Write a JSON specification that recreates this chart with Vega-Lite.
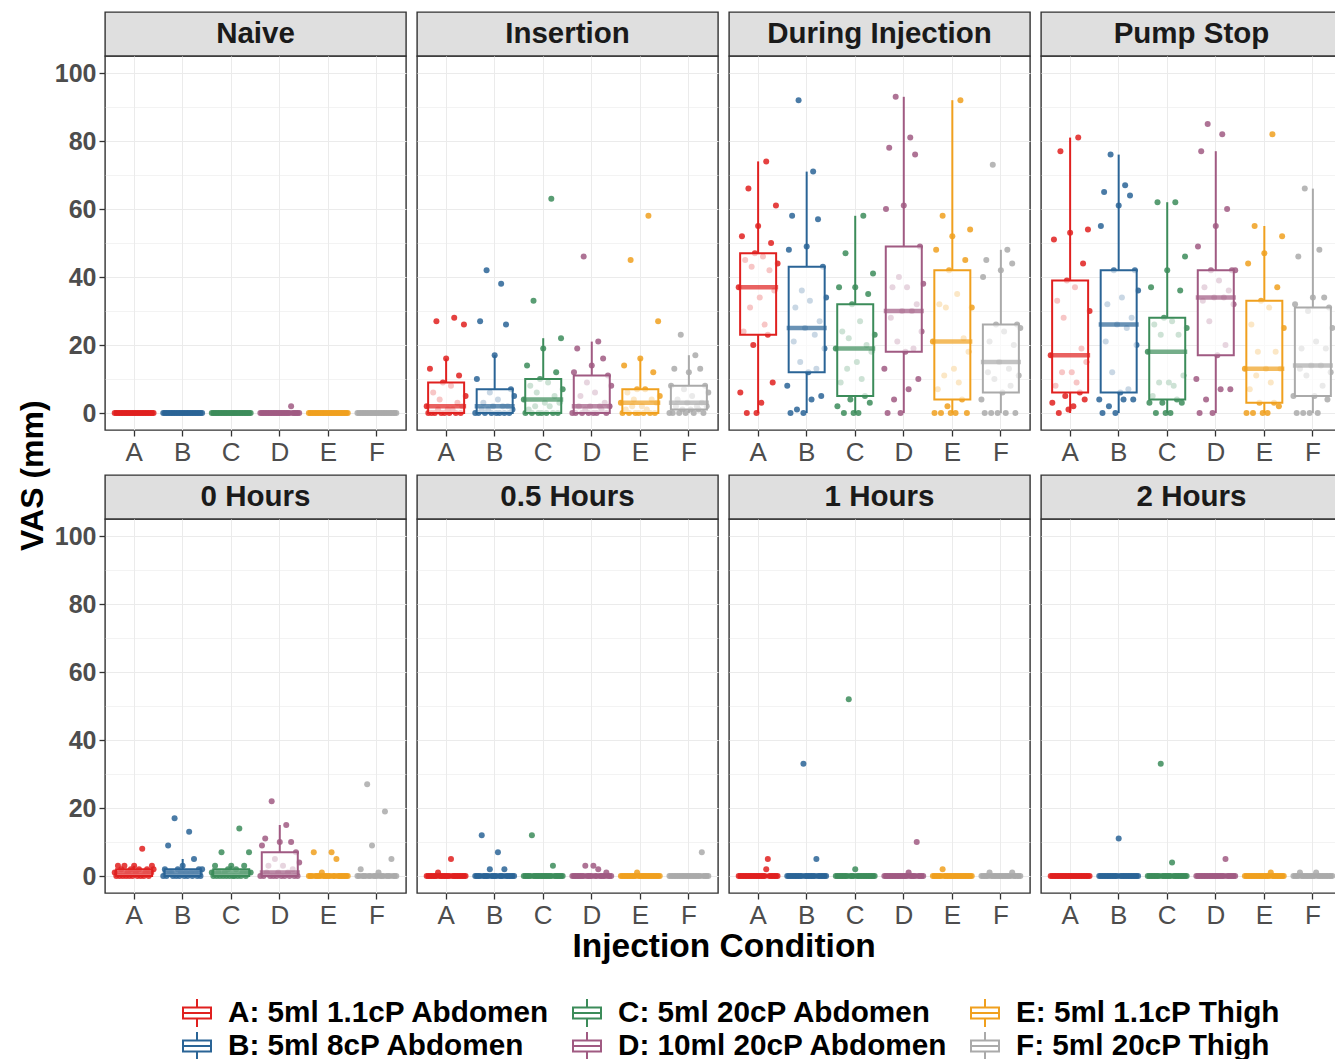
{
"$schema":"https://vega.github.io/schema/vega-lite/v6.json",
"background":"white",
"padding":{"left":16,"top":11,"right":0,"bottom":0},
"datasets":{
"N":[
{"c":"A","v":0},{"c":"A","v":0},{"c":"A","v":0},{"c":"A","v":0},{"c":"A","v":0},{"c":"A","v":0},{"c":"A","v":0},{"c":"A","v":0},{"c":"A","v":0},{"c":"A","v":0},{"c":"A","v":0},{"c":"A","v":0},{"c":"A","v":0},{"c":"A","v":0},{"c":"A","v":0},{"c":"A","v":0},{"c":"A","v":0},{"c":"A","v":0},{"c":"A","v":0},{"c":"A","v":0},{"c":"A","v":0},{"c":"A","v":0},{"c":"A","v":0},{"c":"A","v":0},{"c":"A","v":0},
{"c":"B","v":0},{"c":"B","v":0},{"c":"B","v":0},{"c":"B","v":0},{"c":"B","v":0},{"c":"B","v":0},{"c":"B","v":0},{"c":"B","v":0},{"c":"B","v":0},{"c":"B","v":0},{"c":"B","v":0},{"c":"B","v":0},{"c":"B","v":0},{"c":"B","v":0},{"c":"B","v":0},{"c":"B","v":0},{"c":"B","v":0},{"c":"B","v":0},{"c":"B","v":0},{"c":"B","v":0},{"c":"B","v":0},{"c":"B","v":0},{"c":"B","v":0},{"c":"B","v":0},{"c":"B","v":0},
{"c":"C","v":0},{"c":"C","v":0},{"c":"C","v":0},{"c":"C","v":0},{"c":"C","v":0},{"c":"C","v":0},{"c":"C","v":0},{"c":"C","v":0},{"c":"C","v":0},{"c":"C","v":0},{"c":"C","v":0},{"c":"C","v":0},{"c":"C","v":0},{"c":"C","v":0},{"c":"C","v":0},{"c":"C","v":0},{"c":"C","v":0},{"c":"C","v":0},{"c":"C","v":0},{"c":"C","v":0},{"c":"C","v":0},{"c":"C","v":0},{"c":"C","v":0},{"c":"C","v":0},{"c":"C","v":0},
{"c":"D","v":0},{"c":"D","v":0},{"c":"D","v":0},{"c":"D","v":0},{"c":"D","v":0},{"c":"D","v":0},{"c":"D","v":0},{"c":"D","v":0},{"c":"D","v":0},{"c":"D","v":0},{"c":"D","v":0},{"c":"D","v":0},{"c":"D","v":0},{"c":"D","v":0},{"c":"D","v":0},{"c":"D","v":0},{"c":"D","v":0},{"c":"D","v":0},{"c":"D","v":0},{"c":"D","v":2},{"c":"D","v":0},{"c":"D","v":0},{"c":"D","v":0},{"c":"D","v":0},{"c":"D","v":0},
{"c":"E","v":0},{"c":"E","v":0},{"c":"E","v":0},{"c":"E","v":0},{"c":"E","v":0},{"c":"E","v":0},{"c":"E","v":0},{"c":"E","v":0},{"c":"E","v":0},{"c":"E","v":0},{"c":"E","v":0},{"c":"E","v":0},{"c":"E","v":0},{"c":"E","v":0},{"c":"E","v":0},{"c":"E","v":0},{"c":"E","v":0},{"c":"E","v":0},{"c":"E","v":0},{"c":"E","v":0},{"c":"E","v":0},{"c":"E","v":0},{"c":"E","v":0},{"c":"E","v":0},{"c":"E","v":0},
{"c":"F","v":0},{"c":"F","v":0},{"c":"F","v":0},{"c":"F","v":0},{"c":"F","v":0},{"c":"F","v":0},{"c":"F","v":0},{"c":"F","v":0},{"c":"F","v":0},{"c":"F","v":0},{"c":"F","v":0},{"c":"F","v":0},{"c":"F","v":0},{"c":"F","v":0},{"c":"F","v":0},{"c":"F","v":0},{"c":"F","v":0},{"c":"F","v":0},{"c":"F","v":0},{"c":"F","v":0},{"c":"F","v":0},{"c":"F","v":0},{"c":"F","v":0},{"c":"F","v":0},{"c":"F","v":0}
],
"I":[
{"c":"A","v":2},{"c":"A","v":0},{"c":"A","v":13},{"c":"A","v":0},{"c":"A","v":6},{"c":"A","v":0},{"c":"A","v":27},{"c":"A","v":1},{"c":"A","v":4},{"c":"A","v":0},{"c":"A","v":9},{"c":"A","v":0},{"c":"A","v":16},{"c":"A","v":1},{"c":"A","v":0},{"c":"A","v":8},{"c":"A","v":1},{"c":"A","v":28},{"c":"A","v":0},{"c":"A","v":3},{"c":"A","v":11},{"c":"A","v":0},{"c":"A","v":2},{"c":"A","v":26},{"c":"A","v":5},
{"c":"B","v":0},{"c":"B","v":10},{"c":"B","v":0},{"c":"B","v":27},{"c":"B","v":1},{"c":"B","v":3},{"c":"B","v":0},{"c":"B","v":42},{"c":"B","v":1},{"c":"B","v":6},{"c":"B","v":0},{"c":"B","v":2},{"c":"B","v":17},{"c":"B","v":0},{"c":"B","v":4},{"c":"B","v":0},{"c":"B","v":38},{"c":"B","v":2},{"c":"B","v":0},{"c":"B","v":26},{"c":"B","v":2},{"c":"B","v":0},{"c":"B","v":7},{"c":"B","v":1},{"c":"B","v":5},
{"c":"C","v":4},{"c":"C","v":0},{"c":"C","v":14},{"c":"C","v":1},{"c":"C","v":8},{"c":"C","v":0},{"c":"C","v":33},{"c":"C","v":2},{"c":"C","v":6},{"c":"C","v":0},{"c":"C","v":10},{"c":"C","v":0},{"c":"C","v":19},{"c":"C","v":3},{"c":"C","v":0},{"c":"C","v":9},{"c":"C","v":2},{"c":"C","v":63},{"c":"C","v":0},{"c":"C","v":5},{"c":"C","v":12},{"c":"C","v":0},{"c":"C","v":3},{"c":"C","v":22},{"c":"C","v":7},
{"c":"D","v":0},{"c":"D","v":12},{"c":"D","v":0},{"c":"D","v":19},{"c":"D","v":2},{"c":"D","v":5},{"c":"D","v":0},{"c":"D","v":46},{"c":"D","v":1},{"c":"D","v":9},{"c":"D","v":0},{"c":"D","v":2},{"c":"D","v":14},{"c":"D","v":0},{"c":"D","v":6},{"c":"D","v":0},{"c":"D","v":21},{"c":"D","v":2},{"c":"D","v":1},{"c":"D","v":16},{"c":"D","v":3},{"c":"D","v":0},{"c":"D","v":11},{"c":"D","v":2},{"c":"D","v":8},
{"c":"E","v":3},{"c":"E","v":0},{"c":"E","v":14},{"c":"E","v":1},{"c":"E","v":6},{"c":"E","v":0},{"c":"E","v":45},{"c":"E","v":2},{"c":"E","v":4},{"c":"E","v":0},{"c":"E","v":7},{"c":"E","v":0},{"c":"E","v":16},{"c":"E","v":2},{"c":"E","v":0},{"c":"E","v":7},{"c":"E","v":1},{"c":"E","v":58},{"c":"E","v":0},{"c":"E","v":4},{"c":"E","v":12},{"c":"E","v":0},{"c":"E","v":3},{"c":"E","v":27},{"c":"E","v":5},
{"c":"F","v":0},{"c":"F","v":8},{"c":"F","v":0},{"c":"F","v":13},{"c":"F","v":2},{"c":"F","v":4},{"c":"F","v":0},{"c":"F","v":23},{"c":"F","v":1},{"c":"F","v":7},{"c":"F","v":0},{"c":"F","v":3},{"c":"F","v":12},{"c":"F","v":1},{"c":"F","v":5},{"c":"F","v":0},{"c":"F","v":17},{"c":"F","v":2},{"c":"F","v":1},{"c":"F","v":13},{"c":"F","v":3},{"c":"F","v":0},{"c":"F","v":8},{"c":"F","v":2},{"c":"F","v":6}
],
"DI":[
{"c":"A","v":37},{"c":"A","v":6},{"c":"A","v":52},{"c":"A","v":24},{"c":"A","v":45},{"c":"A","v":0},{"c":"A","v":66},{"c":"A","v":31},{"c":"A","v":43},{"c":"A","v":20},{"c":"A","v":47},{"c":"A","v":0},{"c":"A","v":55},{"c":"A","v":34},{"c":"A","v":3},{"c":"A","v":46},{"c":"A","v":26},{"c":"A","v":74},{"c":"A","v":23},{"c":"A","v":42},{"c":"A","v":50},{"c":"A","v":9},{"c":"A","v":36},{"c":"A","v":61},{"c":"A","v":44},
{"c":"B","v":8},{"c":"B","v":48},{"c":"B","v":0},{"c":"B","v":58},{"c":"B","v":21},{"c":"B","v":31},{"c":"B","v":1},{"c":"B","v":92},{"c":"B","v":15},{"c":"B","v":36},{"c":"B","v":0},{"c":"B","v":25},{"c":"B","v":49},{"c":"B","v":12},{"c":"B","v":33},{"c":"B","v":4},{"c":"B","v":71},{"c":"B","v":23},{"c":"B","v":13},{"c":"B","v":57},{"c":"B","v":27},{"c":"B","v":5},{"c":"B","v":43},{"c":"B","v":19},{"c":"B","v":34},
{"c":"C","v":19},{"c":"C","v":2},{"c":"C","v":37},{"c":"C","v":9},{"c":"C","v":24},{"c":"C","v":0},{"c":"C","v":47},{"c":"C","v":13},{"c":"C","v":22},{"c":"C","v":4},{"c":"C","v":32},{"c":"C","v":0},{"c":"C","v":37},{"c":"C","v":15},{"c":"C","v":0},{"c":"C","v":27},{"c":"C","v":10},{"c":"C","v":58},{"c":"C","v":5},{"c":"C","v":20},{"c":"C","v":35},{"c":"C","v":3},{"c":"C","v":18},{"c":"C","v":41},{"c":"C","v":23},
{"c":"D","v":13},{"c":"D","v":60},{"c":"D","v":0},{"c":"D","v":78},{"c":"D","v":28},{"c":"D","v":37},{"c":"D","v":4},{"c":"D","v":93},{"c":"D","v":21},{"c":"D","v":40},{"c":"D","v":0},{"c":"D","v":30},{"c":"D","v":61},{"c":"D","v":18},{"c":"D","v":37},{"c":"D","v":7},{"c":"D","v":81},{"c":"D","v":30},{"c":"D","v":19},{"c":"D","v":76},{"c":"D","v":32},{"c":"D","v":10},{"c":"D","v":49},{"c":"D","v":24},{"c":"D","v":38},
{"c":"E","v":21},{"c":"E","v":0},{"c":"E","v":48},{"c":"E","v":7},{"c":"E","v":32},{"c":"E","v":0},{"c":"E","v":58},{"c":"E","v":11},{"c":"E","v":31},{"c":"E","v":2},{"c":"E","v":42},{"c":"E","v":0},{"c":"E","v":52},{"c":"E","v":13},{"c":"E","v":0},{"c":"E","v":35},{"c":"E","v":9},{"c":"E","v":92},{"c":"E","v":4},{"c":"E","v":22},{"c":"E","v":45},{"c":"E","v":0},{"c":"E","v":18},{"c":"E","v":54},{"c":"E","v":31},
{"c":"F","v":4},{"c":"F","v":40},{"c":"F","v":0},{"c":"F","v":45},{"c":"F","v":12},{"c":"F","v":21},{"c":"F","v":0},{"c":"F","v":73},{"c":"F","v":10},{"c":"F","v":26},{"c":"F","v":0},{"c":"F","v":15},{"c":"F","v":42},{"c":"F","v":6},{"c":"F","v":24},{"c":"F","v":0},{"c":"F","v":48},{"c":"F","v":13},{"c":"F","v":8},{"c":"F","v":44},{"c":"F","v":20},{"c":"F","v":0},{"c":"F","v":26},{"c":"F","v":11},{"c":"F","v":25}
],
"PS":[
{"c":"A","v":17},{"c":"A","v":3},{"c":"A","v":51},{"c":"A","v":8},{"c":"A","v":33},{"c":"A","v":0},{"c":"A","v":77},{"c":"A","v":12},{"c":"A","v":28},{"c":"A","v":5},{"c":"A","v":39},{"c":"A","v":1},{"c":"A","v":53},{"c":"A","v":12},{"c":"A","v":2},{"c":"A","v":37},{"c":"A","v":9},{"c":"A","v":81},{"c":"A","v":6},{"c":"A","v":19},{"c":"A","v":44},{"c":"A","v":4},{"c":"A","v":15},{"c":"A","v":54},{"c":"A","v":30},
{"c":"B","v":4},{"c":"B","v":55},{"c":"B","v":0},{"c":"B","v":65},{"c":"B","v":21},{"c":"B","v":32},{"c":"B","v":2},{"c":"B","v":76},{"c":"B","v":12},{"c":"B","v":42},{"c":"B","v":0},{"c":"B","v":26},{"c":"B","v":61},{"c":"B","v":6},{"c":"B","v":34},{"c":"B","v":4},{"c":"B","v":67},{"c":"B","v":25},{"c":"B","v":7},{"c":"B","v":64},{"c":"B","v":28},{"c":"B","v":4},{"c":"B","v":42},{"c":"B","v":20},{"c":"B","v":36},
{"c":"C","v":18},{"c":"C","v":3},{"c":"C","v":37},{"c":"C","v":5},{"c":"C","v":26},{"c":"C","v":0},{"c":"C","v":62},{"c":"C","v":9},{"c":"C","v":23},{"c":"C","v":3},{"c":"C","v":28},{"c":"C","v":0},{"c":"C","v":42},{"c":"C","v":9},{"c":"C","v":0},{"c":"C","v":27},{"c":"C","v":8},{"c":"C","v":62},{"c":"C","v":4},{"c":"C","v":23},{"c":"C","v":36},{"c":"C","v":3},{"c":"C","v":11},{"c":"C","v":46},{"c":"C","v":25},
{"c":"D","v":10},{"c":"D","v":49},{"c":"D","v":0},{"c":"D","v":77},{"c":"D","v":33},{"c":"D","v":37},{"c":"D","v":4},{"c":"D","v":85},{"c":"D","v":27},{"c":"D","v":42},{"c":"D","v":0},{"c":"D","v":34},{"c":"D","v":55},{"c":"D","v":17},{"c":"D","v":39},{"c":"D","v":7},{"c":"D","v":82},{"c":"D","v":34},{"c":"D","v":20},{"c":"D","v":60},{"c":"D","v":36},{"c":"D","v":7},{"c":"D","v":42},{"c":"D","v":32},{"c":"D","v":42},
{"c":"E","v":13},{"c":"E","v":0},{"c":"E","v":44},{"c":"E","v":7},{"c":"E","v":26},{"c":"E","v":0},{"c":"E","v":55},{"c":"E","v":11},{"c":"E","v":18},{"c":"E","v":3},{"c":"E","v":33},{"c":"E","v":0},{"c":"E","v":47},{"c":"E","v":13},{"c":"E","v":0},{"c":"E","v":31},{"c":"E","v":9},{"c":"E","v":82},{"c":"E","v":3},{"c":"E","v":18},{"c":"E","v":37},{"c":"E","v":2},{"c":"E","v":13},{"c":"E","v":52},{"c":"E","v":25},
{"c":"F","v":5},{"c":"F","v":32},{"c":"F","v":0},{"c":"F","v":46},{"c":"F","v":13},{"c":"F","v":19},{"c":"F","v":0},{"c":"F","v":66},{"c":"F","v":11},{"c":"F","v":30},{"c":"F","v":0},{"c":"F","v":14},{"c":"F","v":34},{"c":"F","v":5},{"c":"F","v":21},{"c":"F","v":0},{"c":"F","v":48},{"c":"F","v":14},{"c":"F","v":8},{"c":"F","v":34},{"c":"F","v":19},{"c":"F","v":4},{"c":"F","v":31},{"c":"F","v":12},{"c":"F","v":25}
],
"H0":[
{"c":"A","v":1},{"c":"A","v":0},{"c":"A","v":3},{"c":"A","v":0},{"c":"A","v":2},{"c":"A","v":0},{"c":"A","v":3},{"c":"A","v":0},{"c":"A","v":1},{"c":"A","v":0},{"c":"A","v":2},{"c":"A","v":0},{"c":"A","v":3},{"c":"A","v":1},{"c":"A","v":0},{"c":"A","v":2},{"c":"A","v":0},{"c":"A","v":8},{"c":"A","v":0},{"c":"A","v":1},{"c":"A","v":2},{"c":"A","v":0},{"c":"A","v":1},{"c":"A","v":3},{"c":"A","v":2},
{"c":"B","v":0},{"c":"B","v":2},{"c":"B","v":0},{"c":"B","v":9},{"c":"B","v":1},{"c":"B","v":1},{"c":"B","v":0},{"c":"B","v":17},{"c":"B","v":0},{"c":"B","v":2},{"c":"B","v":0},{"c":"B","v":1},{"c":"B","v":3},{"c":"B","v":0},{"c":"B","v":1},{"c":"B","v":0},{"c":"B","v":13},{"c":"B","v":1},{"c":"B","v":0},{"c":"B","v":5},{"c":"B","v":1},{"c":"B","v":0},{"c":"B","v":2},{"c":"B","v":0},{"c":"B","v":2},
{"c":"C","v":1},{"c":"C","v":0},{"c":"C","v":3},{"c":"C","v":0},{"c":"C","v":1},{"c":"C","v":0},{"c":"C","v":7},{"c":"C","v":0},{"c":"C","v":1},{"c":"C","v":0},{"c":"C","v":2},{"c":"C","v":0},{"c":"C","v":3},{"c":"C","v":0},{"c":"C","v":0},{"c":"C","v":2},{"c":"C","v":0},{"c":"C","v":14},{"c":"C","v":0},{"c":"C","v":1},{"c":"C","v":3},{"c":"C","v":0},{"c":"C","v":1},{"c":"C","v":7},{"c":"C","v":1},
{"c":"D","v":0},{"c":"D","v":9},{"c":"D","v":0},{"c":"D","v":11},{"c":"D","v":1},{"c":"D","v":3},{"c":"D","v":0},{"c":"D","v":22},{"c":"D","v":0},{"c":"D","v":5},{"c":"D","v":0},{"c":"D","v":1},{"c":"D","v":10},{"c":"D","v":0},{"c":"D","v":3},{"c":"D","v":0},{"c":"D","v":15},{"c":"D","v":1},{"c":"D","v":0},{"c":"D","v":10},{"c":"D","v":2},{"c":"D","v":0},{"c":"D","v":7},{"c":"D","v":0},{"c":"D","v":4},
{"c":"E","v":0},{"c":"E","v":0},{"c":"E","v":0},{"c":"E","v":7},{"c":"E","v":0},{"c":"E","v":0},{"c":"E","v":0},{"c":"E","v":0},{"c":"E","v":1},{"c":"E","v":0},{"c":"E","v":0},{"c":"E","v":0},{"c":"E","v":0},{"c":"E","v":0},{"c":"E","v":7},{"c":"E","v":0},{"c":"E","v":0},{"c":"E","v":5},{"c":"E","v":0},{"c":"E","v":0},{"c":"E","v":0},{"c":"E","v":0},{"c":"E","v":0},{"c":"E","v":0},{"c":"E","v":0},
{"c":"F","v":0},{"c":"F","v":0},{"c":"F","v":2},{"c":"F","v":0},{"c":"F","v":0},{"c":"F","v":0},{"c":"F","v":27},{"c":"F","v":0},{"c":"F","v":0},{"c":"F","v":9},{"c":"F","v":0},{"c":"F","v":0},{"c":"F","v":0},{"c":"F","v":1},{"c":"F","v":0},{"c":"F","v":0},{"c":"F","v":0},{"c":"F","v":19},{"c":"F","v":0},{"c":"F","v":0},{"c":"F","v":0},{"c":"F","v":5},{"c":"F","v":0},{"c":"F","v":0},{"c":"F","v":0}
],
"H05":[
{"c":"A","v":0},{"c":"A","v":0},{"c":"A","v":0},{"c":"A","v":0},{"c":"A","v":0},{"c":"A","v":0},{"c":"A","v":0},{"c":"A","v":1},{"c":"A","v":0},{"c":"A","v":0},{"c":"A","v":0},{"c":"A","v":0},{"c":"A","v":0},{"c":"A","v":0},{"c":"A","v":0},{"c":"A","v":5},{"c":"A","v":0},{"c":"A","v":0},{"c":"A","v":0},{"c":"A","v":0},{"c":"A","v":0},{"c":"A","v":0},{"c":"A","v":0},{"c":"A","v":0},{"c":"A","v":0},
{"c":"B","v":0},{"c":"B","v":0},{"c":"B","v":0},{"c":"B","v":0},{"c":"B","v":12},{"c":"B","v":0},{"c":"B","v":0},{"c":"B","v":0},{"c":"B","v":0},{"c":"B","v":2},{"c":"B","v":0},{"c":"B","v":0},{"c":"B","v":0},{"c":"B","v":0},{"c":"B","v":7},{"c":"B","v":0},{"c":"B","v":0},{"c":"B","v":0},{"c":"B","v":2},{"c":"B","v":0},{"c":"B","v":0},{"c":"B","v":0},{"c":"B","v":0},{"c":"B","v":0},{"c":"B","v":0},
{"c":"C","v":0},{"c":"C","v":0},{"c":"C","v":0},{"c":"C","v":0},{"c":"C","v":0},{"c":"C","v":12},{"c":"C","v":0},{"c":"C","v":0},{"c":"C","v":0},{"c":"C","v":0},{"c":"C","v":0},{"c":"C","v":0},{"c":"C","v":0},{"c":"C","v":0},{"c":"C","v":0},{"c":"C","v":0},{"c":"C","v":0},{"c":"C","v":0},{"c":"C","v":3},{"c":"C","v":0},{"c":"C","v":0},{"c":"C","v":0},{"c":"C","v":0},{"c":"C","v":0},{"c":"C","v":0},
{"c":"D","v":0},{"c":"D","v":0},{"c":"D","v":0},{"c":"D","v":0},{"c":"D","v":0},{"c":"D","v":0},{"c":"D","v":0},{"c":"D","v":0},{"c":"D","v":3},{"c":"D","v":0},{"c":"D","v":0},{"c":"D","v":0},{"c":"D","v":0},{"c":"D","v":3},{"c":"D","v":0},{"c":"D","v":0},{"c":"D","v":2},{"c":"D","v":0},{"c":"D","v":0},{"c":"D","v":0},{"c":"D","v":0},{"c":"D","v":1},{"c":"D","v":0},{"c":"D","v":0},{"c":"D","v":0},
{"c":"E","v":0},{"c":"E","v":0},{"c":"E","v":0},{"c":"E","v":0},{"c":"E","v":0},{"c":"E","v":0},{"c":"E","v":0},{"c":"E","v":0},{"c":"E","v":0},{"c":"E","v":0},{"c":"E","v":1},{"c":"E","v":0},{"c":"E","v":0},{"c":"E","v":0},{"c":"E","v":0},{"c":"E","v":0},{"c":"E","v":0},{"c":"E","v":0},{"c":"E","v":0},{"c":"E","v":0},{"c":"E","v":0},{"c":"E","v":0},{"c":"E","v":0},{"c":"E","v":0},{"c":"E","v":0},
{"c":"F","v":0},{"c":"F","v":0},{"c":"F","v":0},{"c":"F","v":0},{"c":"F","v":0},{"c":"F","v":0},{"c":"F","v":0},{"c":"F","v":0},{"c":"F","v":0},{"c":"F","v":0},{"c":"F","v":0},{"c":"F","v":0},{"c":"F","v":0},{"c":"F","v":0},{"c":"F","v":0},{"c":"F","v":0},{"c":"F","v":0},{"c":"F","v":0},{"c":"F","v":0},{"c":"F","v":0},{"c":"F","v":7},{"c":"F","v":0},{"c":"F","v":0},{"c":"F","v":0},{"c":"F","v":0}
],
"H1":[
{"c":"A","v":0},{"c":"A","v":0},{"c":"A","v":0},{"c":"A","v":0},{"c":"A","v":0},{"c":"A","v":0},{"c":"A","v":0},{"c":"A","v":0},{"c":"A","v":0},{"c":"A","v":0},{"c":"A","v":0},{"c":"A","v":0},{"c":"A","v":0},{"c":"A","v":0},{"c":"A","v":0},{"c":"A","v":0},{"c":"A","v":0},{"c":"A","v":2},{"c":"A","v":5},{"c":"A","v":0},{"c":"A","v":0},{"c":"A","v":0},{"c":"A","v":0},{"c":"A","v":0},{"c":"A","v":0},
{"c":"B","v":0},{"c":"B","v":0},{"c":"B","v":0},{"c":"B","v":0},{"c":"B","v":0},{"c":"B","v":0},{"c":"B","v":0},{"c":"B","v":0},{"c":"B","v":0},{"c":"B","v":0},{"c":"B","v":33},{"c":"B","v":0},{"c":"B","v":0},{"c":"B","v":0},{"c":"B","v":0},{"c":"B","v":0},{"c":"B","v":0},{"c":"B","v":0},{"c":"B","v":5},{"c":"B","v":0},{"c":"B","v":0},{"c":"B","v":0},{"c":"B","v":0},{"c":"B","v":0},{"c":"B","v":0},
{"c":"C","v":0},{"c":"C","v":0},{"c":"C","v":0},{"c":"C","v":0},{"c":"C","v":0},{"c":"C","v":0},{"c":"C","v":0},{"c":"C","v":0},{"c":"C","v":52},{"c":"C","v":0},{"c":"C","v":0},{"c":"C","v":0},{"c":"C","v":2},{"c":"C","v":0},{"c":"C","v":0},{"c":"C","v":0},{"c":"C","v":0},{"c":"C","v":0},{"c":"C","v":0},{"c":"C","v":0},{"c":"C","v":0},{"c":"C","v":0},{"c":"C","v":0},{"c":"C","v":0},{"c":"C","v":0},
{"c":"D","v":0},{"c":"D","v":0},{"c":"D","v":0},{"c":"D","v":0},{"c":"D","v":0},{"c":"D","v":0},{"c":"D","v":0},{"c":"D","v":0},{"c":"D","v":0},{"c":"D","v":0},{"c":"D","v":0},{"c":"D","v":0},{"c":"D","v":0},{"c":"D","v":0},{"c":"D","v":0},{"c":"D","v":1},{"c":"D","v":0},{"c":"D","v":0},{"c":"D","v":0},{"c":"D","v":0},{"c":"D","v":10},{"c":"D","v":0},{"c":"D","v":0},{"c":"D","v":0},{"c":"D","v":0},
{"c":"E","v":0},{"c":"E","v":0},{"c":"E","v":0},{"c":"E","v":0},{"c":"E","v":0},{"c":"E","v":0},{"c":"E","v":2},{"c":"E","v":0},{"c":"E","v":0},{"c":"E","v":0},{"c":"E","v":0},{"c":"E","v":0},{"c":"E","v":0},{"c":"E","v":0},{"c":"E","v":0},{"c":"E","v":0},{"c":"E","v":0},{"c":"E","v":0},{"c":"E","v":0},{"c":"E","v":0},{"c":"E","v":0},{"c":"E","v":0},{"c":"E","v":0},{"c":"E","v":0},{"c":"E","v":0},
{"c":"F","v":0},{"c":"F","v":0},{"c":"F","v":0},{"c":"F","v":0},{"c":"F","v":0},{"c":"F","v":1},{"c":"F","v":0},{"c":"F","v":0},{"c":"F","v":0},{"c":"F","v":0},{"c":"F","v":0},{"c":"F","v":0},{"c":"F","v":0},{"c":"F","v":0},{"c":"F","v":0},{"c":"F","v":0},{"c":"F","v":0},{"c":"F","v":0},{"c":"F","v":0},{"c":"F","v":1},{"c":"F","v":0},{"c":"F","v":0},{"c":"F","v":0},{"c":"F","v":0},{"c":"F","v":0}
],
"H2":[
{"c":"A","v":0},{"c":"A","v":0},{"c":"A","v":0},{"c":"A","v":0},{"c":"A","v":0},{"c":"A","v":0},{"c":"A","v":0},{"c":"A","v":0},{"c":"A","v":0},{"c":"A","v":0},{"c":"A","v":0},{"c":"A","v":0},{"c":"A","v":0},{"c":"A","v":0},{"c":"A","v":0},{"c":"A","v":0},{"c":"A","v":0},{"c":"A","v":0},{"c":"A","v":0},{"c":"A","v":0},{"c":"A","v":0},{"c":"A","v":0},{"c":"A","v":0},{"c":"A","v":0},{"c":"A","v":0},
{"c":"B","v":0},{"c":"B","v":0},{"c":"B","v":0},{"c":"B","v":0},{"c":"B","v":0},{"c":"B","v":0},{"c":"B","v":0},{"c":"B","v":0},{"c":"B","v":0},{"c":"B","v":0},{"c":"B","v":0},{"c":"B","v":0},{"c":"B","v":11},{"c":"B","v":0},{"c":"B","v":0},{"c":"B","v":0},{"c":"B","v":0},{"c":"B","v":0},{"c":"B","v":0},{"c":"B","v":0},{"c":"B","v":0},{"c":"B","v":0},{"c":"B","v":0},{"c":"B","v":0},{"c":"B","v":0},
{"c":"C","v":0},{"c":"C","v":0},{"c":"C","v":0},{"c":"C","v":0},{"c":"C","v":0},{"c":"C","v":0},{"c":"C","v":0},{"c":"C","v":0},{"c":"C","v":33},{"c":"C","v":0},{"c":"C","v":0},{"c":"C","v":0},{"c":"C","v":0},{"c":"C","v":0},{"c":"C","v":0},{"c":"C","v":4},{"c":"C","v":0},{"c":"C","v":0},{"c":"C","v":0},{"c":"C","v":0},{"c":"C","v":0},{"c":"C","v":0},{"c":"C","v":0},{"c":"C","v":0},{"c":"C","v":0},
{"c":"D","v":0},{"c":"D","v":0},{"c":"D","v":0},{"c":"D","v":0},{"c":"D","v":0},{"c":"D","v":0},{"c":"D","v":0},{"c":"D","v":0},{"c":"D","v":0},{"c":"D","v":0},{"c":"D","v":0},{"c":"D","v":0},{"c":"D","v":0},{"c":"D","v":0},{"c":"D","v":0},{"c":"D","v":0},{"c":"D","v":0},{"c":"D","v":0},{"c":"D","v":5},{"c":"D","v":0},{"c":"D","v":0},{"c":"D","v":0},{"c":"D","v":0},{"c":"D","v":0},{"c":"D","v":0},
{"c":"E","v":0},{"c":"E","v":0},{"c":"E","v":0},{"c":"E","v":0},{"c":"E","v":0},{"c":"E","v":0},{"c":"E","v":0},{"c":"E","v":0},{"c":"E","v":0},{"c":"E","v":0},{"c":"E","v":0},{"c":"E","v":0},{"c":"E","v":0},{"c":"E","v":0},{"c":"E","v":0},{"c":"E","v":0},{"c":"E","v":1},{"c":"E","v":0},{"c":"E","v":0},{"c":"E","v":0},{"c":"E","v":0},{"c":"E","v":0},{"c":"E","v":0},{"c":"E","v":0},{"c":"E","v":0},
{"c":"F","v":0},{"c":"F","v":0},{"c":"F","v":0},{"c":"F","v":0},{"c":"F","v":1},{"c":"F","v":0},{"c":"F","v":0},{"c":"F","v":0},{"c":"F","v":0},{"c":"F","v":0},{"c":"F","v":0},{"c":"F","v":0},{"c":"F","v":0},{"c":"F","v":0},{"c":"F","v":1},{"c":"F","v":0},{"c":"F","v":0},{"c":"F","v":0},{"c":"F","v":0},{"c":"F","v":0},{"c":"F","v":0},{"c":"F","v":0},{"c":"F","v":0},{"c":"F","v":0},{"c":"F","v":0}
]
},
"title":{"text":"VAS (mm)","orient":"left","anchor":"middle","fontSize":32,"fontWeight":"bold","color":"#000000","offset":4,"dx":62},
"vconcat":[
{"hconcat":[
{"vconcat":[
{"data":{"values":[{"label":"Naive"}]},"width":301,"height":44,"view":{"fill":"#DFDFDF","stroke":"#333333","strokeWidth":1.4},"mark":{"type":"text","fontSize":29.5,"fontWeight":"bold","color":"#1A1A1A"},"encoding":{"text":{"field":"label"},"x":{"field":"label","type":"nominal","axis":null},"y":{"field":"label","type":"nominal","axis":null}}},
{"width":301,"height":374,"data":{"name":"N"},"transform":[{"window":[{"op":"row_number","as":"s"}],"groupby":["c"]}],
"encoding":{"x":{"field":"c","type":"nominal","scale":{"domain":["A","B","C","D","E","F"],"paddingInner":0.2,"paddingOuter":0.2},"axis":{"title":null}},
"y":{"field":"v","type":"quantitative","scale":{"domain":[-5,105],"nice":false,"zero":false},"axis":{"title":null,"values":[0,10,20,30,40,50,60,70,80,90,100],"labelExpr":"datum.value % 20 == 0 ? datum.label : ''","labelOverlap":false,"tickOpacity":{"condition":{"test":"datum.value % 20 != 0","value":0},"value":1},"gridWidth":{"condition":{"test":"datum.value % 20 != 0","value":0.6},"value":1.1}}}},
"layer":[
{"mark":{"type":"circle","size":36,"opacity":0.85},"encoding":{"xOffset":{"field":"s","type":"ordinal","scale":{"paddingInner":0,"paddingOuter":0}},"color":{"field":"c","type":"nominal","scale":{"domain":["A","B","C","D","E","F"],"range":["#E0201F","#2A6496","#3C8C5A","#A05A82","#F0A01E","#AAAAAA"]},"legend":null}}},
{"mark":{"type":"boxplot","extent":1.5,"size":36,"outliers":false,"box":{"filled":false,"fill":"white","fillOpacity":0.7,"strokeWidth":2},"median":{"strokeWidth":4,"thickness":0.5},"rule":{"strokeWidth":2}},
"encoding":{"stroke":{"field":"c","type":"nominal","scale":{"domain":["A","C","E","B","D","F"],"range":["#E0201F","#3C8C5A","#F0A01E","#2A6496","#A05A82","#AAAAAA"]},"legend":{"title":null,"orient":"none","legendX":77,"legendY":986,"direction":"horizontal","columns":3,"labelExpr":"datum.value=='A'?'A: 5ml 1.1cP Abdomen':datum.value=='B'?'B: 5ml 8cP Abdomen':datum.value=='C'?'C: 5ml 20cP Abdomen':datum.value=='D'?'D: 10ml 20cP Abdomen':datum.value=='E'?'E: 5ml 1.1cP Thigh':'F: 5ml 20cP Thigh'","symbolType":"M0,-1V-0.4M-1,-0.4H1V0.4H-1ZM-1,0H1M0,0.4V1","symbolStrokeWidth":2}}}}
]}
],"spacing":0,"bounds":"flush","resolve":{"scale":{"xOffset":"independent"}}},
{"vconcat":[
{"data":{"values":[{"label":"Insertion"}]},"width":301,"height":44,"view":{"fill":"#DFDFDF","stroke":"#333333","strokeWidth":1.4},"mark":{"type":"text","fontSize":29.5,"fontWeight":"bold","color":"#1A1A1A"},"encoding":{"text":{"field":"label"},"x":{"field":"label","type":"nominal","axis":null},"y":{"field":"label","type":"nominal","axis":null}}},
{"width":301,"height":374,"data":{"name":"I"},"transform":[{"window":[{"op":"row_number","as":"s"}],"groupby":["c"]}],
"encoding":{"x":{"field":"c","type":"nominal","scale":{"domain":["A","B","C","D","E","F"],"paddingInner":0.2,"paddingOuter":0.2},"axis":{"title":null}},
"y":{"field":"v","type":"quantitative","scale":{"domain":[-5,105],"nice":false,"zero":false},"axis":{"title":null,"values":[0,10,20,30,40,50,60,70,80,90,100],"labels":false,"ticks":false,"gridWidth":{"condition":{"test":"datum.value % 20 != 0","value":0.6},"value":1.1}}}},
"layer":[
{"mark":{"type":"circle","size":36,"opacity":0.85},"encoding":{"xOffset":{"field":"s","type":"ordinal","scale":{"paddingInner":0,"paddingOuter":0}},"color":{"field":"c","type":"nominal","scale":{"domain":["A","B","C","D","E","F"],"range":["#E0201F","#2A6496","#3C8C5A","#A05A82","#F0A01E","#AAAAAA"]},"legend":null}}},
{"mark":{"type":"boxplot","extent":1.5,"size":36,"outliers":false,"box":{"filled":false,"fill":"white","fillOpacity":0.7,"strokeWidth":2},"median":{"strokeWidth":4,"thickness":0.5},"rule":{"strokeWidth":2}},
"encoding":{"stroke":{"field":"c","type":"nominal","scale":{"domain":["A","C","E","B","D","F"],"range":["#E0201F","#3C8C5A","#F0A01E","#2A6496","#A05A82","#AAAAAA"]},"legend":{"title":null,"orient":"none","legendX":77,"legendY":986,"direction":"horizontal","columns":3,"labelExpr":"datum.value=='A'?'A: 5ml 1.1cP Abdomen':datum.value=='B'?'B: 5ml 8cP Abdomen':datum.value=='C'?'C: 5ml 20cP Abdomen':datum.value=='D'?'D: 10ml 20cP Abdomen':datum.value=='E'?'E: 5ml 1.1cP Thigh':'F: 5ml 20cP Thigh'","symbolType":"M0,-1V-0.4M-1,-0.4H1V0.4H-1ZM-1,0H1M0,0.4V1","symbolStrokeWidth":2}}}}
]}
],"spacing":0,"bounds":"flush","resolve":{"scale":{"xOffset":"independent"}}},
{"vconcat":[
{"data":{"values":[{"label":"During Injection"}]},"width":301,"height":44,"view":{"fill":"#DFDFDF","stroke":"#333333","strokeWidth":1.4},"mark":{"type":"text","fontSize":29.5,"fontWeight":"bold","color":"#1A1A1A"},"encoding":{"text":{"field":"label"},"x":{"field":"label","type":"nominal","axis":null},"y":{"field":"label","type":"nominal","axis":null}}},
{"width":301,"height":374,"data":{"name":"DI"},"transform":[{"window":[{"op":"row_number","as":"s"}],"groupby":["c"]}],
"encoding":{"x":{"field":"c","type":"nominal","scale":{"domain":["A","B","C","D","E","F"],"paddingInner":0.2,"paddingOuter":0.2},"axis":{"title":null}},
"y":{"field":"v","type":"quantitative","scale":{"domain":[-5,105],"nice":false,"zero":false},"axis":{"title":null,"values":[0,10,20,30,40,50,60,70,80,90,100],"labels":false,"ticks":false,"gridWidth":{"condition":{"test":"datum.value % 20 != 0","value":0.6},"value":1.1}}}},
"layer":[
{"mark":{"type":"circle","size":36,"opacity":0.85},"encoding":{"xOffset":{"field":"s","type":"ordinal","scale":{"paddingInner":0,"paddingOuter":0}},"color":{"field":"c","type":"nominal","scale":{"domain":["A","B","C","D","E","F"],"range":["#E0201F","#2A6496","#3C8C5A","#A05A82","#F0A01E","#AAAAAA"]},"legend":null}}},
{"mark":{"type":"boxplot","extent":1.5,"size":36,"outliers":false,"box":{"filled":false,"fill":"white","fillOpacity":0.7,"strokeWidth":2},"median":{"strokeWidth":4,"thickness":0.5},"rule":{"strokeWidth":2}},
"encoding":{"stroke":{"field":"c","type":"nominal","scale":{"domain":["A","C","E","B","D","F"],"range":["#E0201F","#3C8C5A","#F0A01E","#2A6496","#A05A82","#AAAAAA"]},"legend":{"title":null,"orient":"none","legendX":77,"legendY":986,"direction":"horizontal","columns":3,"labelExpr":"datum.value=='A'?'A: 5ml 1.1cP Abdomen':datum.value=='B'?'B: 5ml 8cP Abdomen':datum.value=='C'?'C: 5ml 20cP Abdomen':datum.value=='D'?'D: 10ml 20cP Abdomen':datum.value=='E'?'E: 5ml 1.1cP Thigh':'F: 5ml 20cP Thigh'","symbolType":"M0,-1V-0.4M-1,-0.4H1V0.4H-1ZM-1,0H1M0,0.4V1","symbolStrokeWidth":2}}}}
]}
],"spacing":0,"bounds":"flush","resolve":{"scale":{"xOffset":"independent"}}},
{"vconcat":[
{"data":{"values":[{"label":"Pump Stop"}]},"width":301,"height":44,"view":{"fill":"#DFDFDF","stroke":"#333333","strokeWidth":1.4},"mark":{"type":"text","fontSize":29.5,"fontWeight":"bold","color":"#1A1A1A"},"encoding":{"text":{"field":"label"},"x":{"field":"label","type":"nominal","axis":null},"y":{"field":"label","type":"nominal","axis":null}}},
{"width":301,"height":374,"data":{"name":"PS"},"transform":[{"window":[{"op":"row_number","as":"s"}],"groupby":["c"]}],
"encoding":{"x":{"field":"c","type":"nominal","scale":{"domain":["A","B","C","D","E","F"],"paddingInner":0.2,"paddingOuter":0.2},"axis":{"title":null}},
"y":{"field":"v","type":"quantitative","scale":{"domain":[-5,105],"nice":false,"zero":false},"axis":{"title":null,"values":[0,10,20,30,40,50,60,70,80,90,100],"labels":false,"ticks":false,"gridWidth":{"condition":{"test":"datum.value % 20 != 0","value":0.6},"value":1.1}}}},
"layer":[
{"mark":{"type":"circle","size":36,"opacity":0.85},"encoding":{"xOffset":{"field":"s","type":"ordinal","scale":{"paddingInner":0,"paddingOuter":0}},"color":{"field":"c","type":"nominal","scale":{"domain":["A","B","C","D","E","F"],"range":["#E0201F","#2A6496","#3C8C5A","#A05A82","#F0A01E","#AAAAAA"]},"legend":null}}},
{"mark":{"type":"boxplot","extent":1.5,"size":36,"outliers":false,"box":{"filled":false,"fill":"white","fillOpacity":0.7,"strokeWidth":2},"median":{"strokeWidth":4,"thickness":0.5},"rule":{"strokeWidth":2}},
"encoding":{"stroke":{"field":"c","type":"nominal","scale":{"domain":["A","C","E","B","D","F"],"range":["#E0201F","#3C8C5A","#F0A01E","#2A6496","#A05A82","#AAAAAA"]},"legend":{"title":null,"orient":"none","legendX":77,"legendY":986,"direction":"horizontal","columns":3,"labelExpr":"datum.value=='A'?'A: 5ml 1.1cP Abdomen':datum.value=='B'?'B: 5ml 8cP Abdomen':datum.value=='C'?'C: 5ml 20cP Abdomen':datum.value=='D'?'D: 10ml 20cP Abdomen':datum.value=='E'?'E: 5ml 1.1cP Thigh':'F: 5ml 20cP Thigh'","symbolType":"M0,-1V-0.4M-1,-0.4H1V0.4H-1ZM-1,0H1M0,0.4V1","symbolStrokeWidth":2}}}}
]}
],"spacing":0,"bounds":"flush","resolve":{"scale":{"xOffset":"independent"}}}
],"spacing":9,"resolve":{"scale":{"xOffset":"independent"}}},
{"title":{"text":"Injection Condition","orient":"bottom","anchor":"middle","fontSize":33.5,"fontWeight":"bold","color":"#000000","offset":2,"dx":26},
"hconcat":[
{"vconcat":[
{"data":{"values":[{"label":"0 Hours"}]},"width":301,"height":44,"view":{"fill":"#DFDFDF","stroke":"#333333","strokeWidth":1.4},"mark":{"type":"text","fontSize":29.5,"fontWeight":"bold","color":"#1A1A1A"},"encoding":{"text":{"field":"label"},"x":{"field":"label","type":"nominal","axis":null},"y":{"field":"label","type":"nominal","axis":null}}},
{"width":301,"height":374,"data":{"name":"H0"},"transform":[{"window":[{"op":"row_number","as":"s"}],"groupby":["c"]}],
"encoding":{"x":{"field":"c","type":"nominal","scale":{"domain":["A","B","C","D","E","F"],"paddingInner":0.2,"paddingOuter":0.2},"axis":{"title":null}},
"y":{"field":"v","type":"quantitative","scale":{"domain":[-5,105],"nice":false,"zero":false},"axis":{"title":null,"values":[0,10,20,30,40,50,60,70,80,90,100],"labelExpr":"datum.value % 20 == 0 ? datum.label : ''","labelOverlap":false,"tickOpacity":{"condition":{"test":"datum.value % 20 != 0","value":0},"value":1},"gridWidth":{"condition":{"test":"datum.value % 20 != 0","value":0.6},"value":1.1}}}},
"layer":[
{"mark":{"type":"circle","size":36,"opacity":0.85},"encoding":{"xOffset":{"field":"s","type":"ordinal","scale":{"paddingInner":0,"paddingOuter":0}},"color":{"field":"c","type":"nominal","scale":{"domain":["A","B","C","D","E","F"],"range":["#E0201F","#2A6496","#3C8C5A","#A05A82","#F0A01E","#AAAAAA"]},"legend":null}}},
{"mark":{"type":"boxplot","extent":1.5,"size":36,"outliers":false,"box":{"filled":false,"fill":"white","fillOpacity":0.7,"strokeWidth":2},"median":{"strokeWidth":4,"thickness":0.5},"rule":{"strokeWidth":2}},
"encoding":{"stroke":{"field":"c","type":"nominal","scale":{"domain":["A","C","E","B","D","F"],"range":["#E0201F","#3C8C5A","#F0A01E","#2A6496","#A05A82","#AAAAAA"]},"legend":{"title":null,"orient":"none","legendX":77,"legendY":986,"direction":"horizontal","columns":3,"labelExpr":"datum.value=='A'?'A: 5ml 1.1cP Abdomen':datum.value=='B'?'B: 5ml 8cP Abdomen':datum.value=='C'?'C: 5ml 20cP Abdomen':datum.value=='D'?'D: 10ml 20cP Abdomen':datum.value=='E'?'E: 5ml 1.1cP Thigh':'F: 5ml 20cP Thigh'","symbolType":"M0,-1V-0.4M-1,-0.4H1V0.4H-1ZM-1,0H1M0,0.4V1","symbolStrokeWidth":2}}}}
]}
],"spacing":0,"bounds":"flush","resolve":{"scale":{"xOffset":"independent"}}},
{"vconcat":[
{"data":{"values":[{"label":"0.5 Hours"}]},"width":301,"height":44,"view":{"fill":"#DFDFDF","stroke":"#333333","strokeWidth":1.4},"mark":{"type":"text","fontSize":29.5,"fontWeight":"bold","color":"#1A1A1A"},"encoding":{"text":{"field":"label"},"x":{"field":"label","type":"nominal","axis":null},"y":{"field":"label","type":"nominal","axis":null}}},
{"width":301,"height":374,"data":{"name":"H05"},"transform":[{"window":[{"op":"row_number","as":"s"}],"groupby":["c"]}],
"encoding":{"x":{"field":"c","type":"nominal","scale":{"domain":["A","B","C","D","E","F"],"paddingInner":0.2,"paddingOuter":0.2},"axis":{"title":null}},
"y":{"field":"v","type":"quantitative","scale":{"domain":[-5,105],"nice":false,"zero":false},"axis":{"title":null,"values":[0,10,20,30,40,50,60,70,80,90,100],"labels":false,"ticks":false,"gridWidth":{"condition":{"test":"datum.value % 20 != 0","value":0.6},"value":1.1}}}},
"layer":[
{"mark":{"type":"circle","size":36,"opacity":0.85},"encoding":{"xOffset":{"field":"s","type":"ordinal","scale":{"paddingInner":0,"paddingOuter":0}},"color":{"field":"c","type":"nominal","scale":{"domain":["A","B","C","D","E","F"],"range":["#E0201F","#2A6496","#3C8C5A","#A05A82","#F0A01E","#AAAAAA"]},"legend":null}}},
{"mark":{"type":"boxplot","extent":1.5,"size":36,"outliers":false,"box":{"filled":false,"fill":"white","fillOpacity":0.7,"strokeWidth":2},"median":{"strokeWidth":4,"thickness":0.5},"rule":{"strokeWidth":2}},
"encoding":{"stroke":{"field":"c","type":"nominal","scale":{"domain":["A","C","E","B","D","F"],"range":["#E0201F","#3C8C5A","#F0A01E","#2A6496","#A05A82","#AAAAAA"]},"legend":{"title":null,"orient":"none","legendX":77,"legendY":986,"direction":"horizontal","columns":3,"labelExpr":"datum.value=='A'?'A: 5ml 1.1cP Abdomen':datum.value=='B'?'B: 5ml 8cP Abdomen':datum.value=='C'?'C: 5ml 20cP Abdomen':datum.value=='D'?'D: 10ml 20cP Abdomen':datum.value=='E'?'E: 5ml 1.1cP Thigh':'F: 5ml 20cP Thigh'","symbolType":"M0,-1V-0.4M-1,-0.4H1V0.4H-1ZM-1,0H1M0,0.4V1","symbolStrokeWidth":2}}}}
]}
],"spacing":0,"bounds":"flush","resolve":{"scale":{"xOffset":"independent"}}},
{"vconcat":[
{"data":{"values":[{"label":"1 Hours"}]},"width":301,"height":44,"view":{"fill":"#DFDFDF","stroke":"#333333","strokeWidth":1.4},"mark":{"type":"text","fontSize":29.5,"fontWeight":"bold","color":"#1A1A1A"},"encoding":{"text":{"field":"label"},"x":{"field":"label","type":"nominal","axis":null},"y":{"field":"label","type":"nominal","axis":null}}},
{"width":301,"height":374,"data":{"name":"H1"},"transform":[{"window":[{"op":"row_number","as":"s"}],"groupby":["c"]}],
"encoding":{"x":{"field":"c","type":"nominal","scale":{"domain":["A","B","C","D","E","F"],"paddingInner":0.2,"paddingOuter":0.2},"axis":{"title":null}},
"y":{"field":"v","type":"quantitative","scale":{"domain":[-5,105],"nice":false,"zero":false},"axis":{"title":null,"values":[0,10,20,30,40,50,60,70,80,90,100],"labels":false,"ticks":false,"gridWidth":{"condition":{"test":"datum.value % 20 != 0","value":0.6},"value":1.1}}}},
"layer":[
{"mark":{"type":"circle","size":36,"opacity":0.85},"encoding":{"xOffset":{"field":"s","type":"ordinal","scale":{"paddingInner":0,"paddingOuter":0}},"color":{"field":"c","type":"nominal","scale":{"domain":["A","B","C","D","E","F"],"range":["#E0201F","#2A6496","#3C8C5A","#A05A82","#F0A01E","#AAAAAA"]},"legend":null}}},
{"mark":{"type":"boxplot","extent":1.5,"size":36,"outliers":false,"box":{"filled":false,"fill":"white","fillOpacity":0.7,"strokeWidth":2},"median":{"strokeWidth":4,"thickness":0.5},"rule":{"strokeWidth":2}},
"encoding":{"stroke":{"field":"c","type":"nominal","scale":{"domain":["A","C","E","B","D","F"],"range":["#E0201F","#3C8C5A","#F0A01E","#2A6496","#A05A82","#AAAAAA"]},"legend":{"title":null,"orient":"none","legendX":77,"legendY":986,"direction":"horizontal","columns":3,"labelExpr":"datum.value=='A'?'A: 5ml 1.1cP Abdomen':datum.value=='B'?'B: 5ml 8cP Abdomen':datum.value=='C'?'C: 5ml 20cP Abdomen':datum.value=='D'?'D: 10ml 20cP Abdomen':datum.value=='E'?'E: 5ml 1.1cP Thigh':'F: 5ml 20cP Thigh'","symbolType":"M0,-1V-0.4M-1,-0.4H1V0.4H-1ZM-1,0H1M0,0.4V1","symbolStrokeWidth":2}}}}
]}
],"spacing":0,"bounds":"flush","resolve":{"scale":{"xOffset":"independent"}}},
{"vconcat":[
{"data":{"values":[{"label":"2 Hours"}]},"width":301,"height":44,"view":{"fill":"#DFDFDF","stroke":"#333333","strokeWidth":1.4},"mark":{"type":"text","fontSize":29.5,"fontWeight":"bold","color":"#1A1A1A"},"encoding":{"text":{"field":"label"},"x":{"field":"label","type":"nominal","axis":null},"y":{"field":"label","type":"nominal","axis":null}}},
{"width":301,"height":374,"data":{"name":"H2"},"transform":[{"window":[{"op":"row_number","as":"s"}],"groupby":["c"]}],
"encoding":{"x":{"field":"c","type":"nominal","scale":{"domain":["A","B","C","D","E","F"],"paddingInner":0.2,"paddingOuter":0.2},"axis":{"title":null}},
"y":{"field":"v","type":"quantitative","scale":{"domain":[-5,105],"nice":false,"zero":false},"axis":{"title":null,"values":[0,10,20,30,40,50,60,70,80,90,100],"labels":false,"ticks":false,"gridWidth":{"condition":{"test":"datum.value % 20 != 0","value":0.6},"value":1.1}}}},
"layer":[
{"mark":{"type":"circle","size":36,"opacity":0.85},"encoding":{"xOffset":{"field":"s","type":"ordinal","scale":{"paddingInner":0,"paddingOuter":0}},"color":{"field":"c","type":"nominal","scale":{"domain":["A","B","C","D","E","F"],"range":["#E0201F","#2A6496","#3C8C5A","#A05A82","#F0A01E","#AAAAAA"]},"legend":null}}},
{"mark":{"type":"boxplot","extent":1.5,"size":36,"outliers":false,"box":{"filled":false,"fill":"white","fillOpacity":0.7,"strokeWidth":2},"median":{"strokeWidth":4,"thickness":0.5},"rule":{"strokeWidth":2}},
"encoding":{"stroke":{"field":"c","type":"nominal","scale":{"domain":["A","C","E","B","D","F"],"range":["#E0201F","#3C8C5A","#F0A01E","#2A6496","#A05A82","#AAAAAA"]},"legend":{"title":null,"orient":"none","legendX":77,"legendY":986,"direction":"horizontal","columns":3,"labelExpr":"datum.value=='A'?'A: 5ml 1.1cP Abdomen':datum.value=='B'?'B: 5ml 8cP Abdomen':datum.value=='C'?'C: 5ml 20cP Abdomen':datum.value=='D'?'D: 10ml 20cP Abdomen':datum.value=='E'?'E: 5ml 1.1cP Thigh':'F: 5ml 20cP Thigh'","symbolType":"M0,-1V-0.4M-1,-0.4H1V0.4H-1ZM-1,0H1M0,0.4V1","symbolStrokeWidth":2}}}}
]}
],"spacing":0,"bounds":"flush","resolve":{"scale":{"xOffset":"independent"}}}
],"spacing":9,"resolve":{"scale":{"xOffset":"independent"}}}
],
"spacing":8,
"resolve":{"scale":{"xOffset":"independent"}},
"config":{
"font":"Liberation Sans",
"view":{"stroke":"#333333","strokeWidth":1.4},
"axis":{"domain":false,"grid":true,"gridColor":"#EBEBEB","tickColor":"#333333","tickWidth":1.3,"tickSize":6,"labelColor":"#4D4D4D","labelFont":"Liberation Sans"},
"axisX":{"labelFontSize":26,"labelAngle":0,"labelPadding":3},
"axisY":{"labelFontSize":25,"labelFontWeight":"bold","labelPadding":3},
"legend":{"labelFontSize":29.7,"labelFontWeight":"bold","labelColor":"#000000","labelLimit":700,"symbolSize":784,"symbolFillColor":"white","rowPadding":-4,"columnPadding":19,"labelOffset":16}
}
}
